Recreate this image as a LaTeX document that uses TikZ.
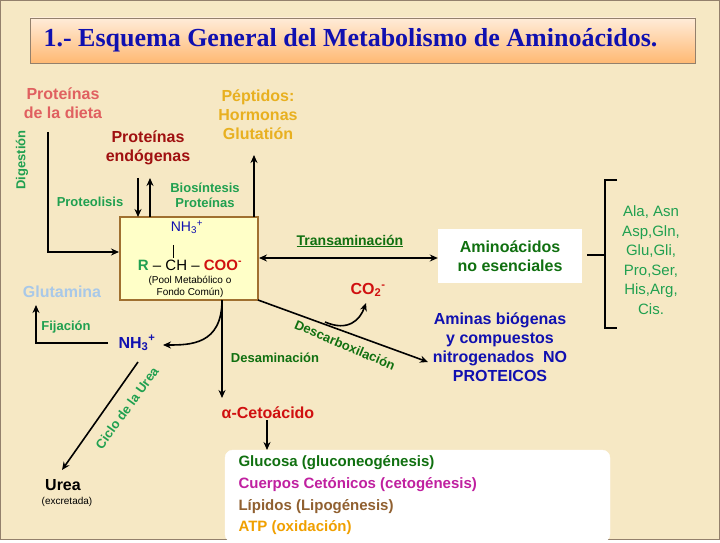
\documentclass[tikz,border=0pt]{standalone}
\usepackage{fontspec}
\setmainfont{Liberation Sans}
\newfontfamily\titlefont{Liberation Serif}
\usetikzlibrary{arrows.meta, positioning}
\definecolor{bgbeige}{HTML}{F6E8C4}
\definecolor{diet}{HTML}{E06060}
\definecolor{pept}{HTML}{E8B020}
\definecolor{endo}{HTML}{A01010}
\definecolor{lgreen}{HTML}{20A050}
\definecolor{dgreen}{HTML}{107010}
\definecolor{nblue}{HTML}{1010B0}
\definecolor{glut}{HTML}{A8C8E8}
\definecolor{cred}{HTML}{D01010}
\definecolor{lip}{HTML}{906030}
\definecolor{cet}{HTML}{C020A0}
\definecolor{atp}{HTML}{F0A000}
\definecolor{poolfill}{HTML}{FFFFC8}
\definecolor{poolline}{HTML}{A07030}
\newcommand{\ammon}{NH\textsubscript{3}\textsuperscript{+}}

\begin{document}
\begin{tikzpicture}[
        x=1pt, y=-1pt,
        font=\bfseries,
        lbl/.style={align=center, inner sep=1pt},
        big/.style={lbl, font=\fontsize{16}{19}\selectfont\bfseries},
        small/.style={lbl, font=\fontsize{13}{15}\selectfont\bfseries, text=lgreen},
        flow/.style={-{Stealth[length=8pt,width=7pt]}, line width=1.6pt}
    ]

    % frame and title
    \fill[bgbeige] (0,0) rectangle (720,540);
    \draw[gray!70!brown, line width=1pt] (0.5,0.5) rectangle (719.5,539.5);
    \shade[top color=orange!15, bottom color=orange!55, draw=gray!70!brown]
        (30,18) rectangle (695,63);
    \node[anchor=west, text=nblue, font=\titlefont\fontsize{26}{30}\selectfont\bfseries]
        (title) at (40,40) {1.- Esquema General del Metabolismo de Aminoácidos.};

    % pool
    \node[draw=poolline, fill=poolfill, line width=2pt, minimum width=138pt,
          minimum height=83pt] (pool) at (189,258.5) {};
    \node[text=nblue, font=\fontsize{14}{16}\selectfont\mdseries] (nh3top) at (187,227) {\ammon};
    \coordinate (bondtop) at (173,245);
    \coordinate (bondbot) at (173,258);
    \draw[line width=0.8pt] (bondtop) -- (bondbot);
    \node[font=\fontsize{15}{17}\selectfont\mdseries] (formula) at (190,265)
        {\textbf{\textcolor{lgreen}{R}} -- CH -- \textbf{\textcolor{cred}{COO\textsuperscript{-}}}};
    \node[lbl, font=\fontsize{10}{12}\selectfont\mdseries] (poolname) at (190,287)
        {(Pool Metabólico o\\Fondo Común)};

    % sources and fates
    \node[big, text=diet] (dieta) at (63,103) {Proteínas\\de la dieta};
    \node[big, text=pept] (pept) at (258,115) {Péptidos:\\Hormonas\\Glutatión};
    \node[big, text=endo] (endo) at (148,148) {Proteínas\\endógenas};
    \node[small, rotate=90] (dig) at (22,160) {Digestión};
    \node[small] (proteol) at (90,202) {Proteolisis};
    \node[small] (biosin) at (205,195) {Biosíntesis\\Proteínas};

    \draw[flow] (48,132) |- (pool.west |- 0,252);
    \draw[flow] (138,178) -- (138,217);
    \draw[flow] (150,217) -- (150,178);
    \draw[flow] (254,217) -- (254,155);

    % transamination
    \node[draw=none, fill=white, minimum width=144pt, minimum height=54pt, lbl,
          font=\fontsize{16}{19}\selectfont\bfseries, text=dgreen]
        (aano) at (510,256) {Aminoácidos\\no esenciales};
    \node[small, text=dgreen, font=\fontsize{14}{16}\selectfont\bfseries] (transam) at (350,241)
        {\underline{Transaminación}};
    \draw[{Stealth[length=8pt,width=7pt]}-{Stealth[length=8pt,width=7pt]}, line width=1.6pt]
        (pool.east |- 0,258) -- (aano.west |- 0,258);

    % list
    \coordinate (brtop) at (617,180);
    \coordinate (brbot) at (617,328);
    \draw[line width=1.8pt] (brtop) -- (605,180) -- (605,328) -- (brbot);
    \draw[line width=1.8pt] (587,255) -- (605,255);
    \node[lbl, text=lgreen, font=\fontsize{15}{19.5}\selectfont\mdseries] (aalist) at (651,260)
        {Ala, Asn\\Asp,Gln,\\Glu,Gli,\\Pro,Ser,\\His,Arg,\\Cis.};

    % ammonia
    \node[big, text=glut] (glut) at (62,292) {Glutamina};
    \node[small] (fij) at (66,327) {Fijación};
    \node[text=nblue, font=\fontsize{16}{19}\selectfont\bfseries] (nh3) at (137,343) {\ammon};
    \draw[flow] (108,343) -- (36,343) -- (36,305);
    \draw[flow] (222,300) .. controls (222,345) and (190,345) .. (163,345);
    \node[small, rotate=54] (ciclo) at (127,408) {Ciclo de la Urea};
    \draw[flow] (138,362) -- (62,470);
    \node[lbl, font=\fontsize{16}{19}\selectfont\bfseries] (urea) at (63,485) {Urea};
    \node[lbl, font=\fontsize{10}{12}\selectfont\mdseries] (excr) at (67,502) {(excretada)};

    % deamination
    \node[small, text=dgreen] (desam) at (275,358) {Desaminación};
    \node[big, text=cred] (ceto) at (268,413) {α-Cetoácido};
    \draw[flow] (222,300) -- (222,398);

    % decarboxylation
    \node[big, text=cred] (co2) at (368,290) {CO\textsubscript{2}\textsuperscript{-}};
    \node[small, text=dgreen, rotate=-23] (descarb) at (345,345) {Descarboxilación};
    \draw[flow] (258,300) -- (428,362);
    \draw[flow] (325,322) .. controls (348,332) and (360,320) .. (366,303);
    \node[big, text=nblue] (aminas) at (500,347)
        {Aminas biógenas\\y compuestos\\nitrogenados\ \ NO\\PROTEICOS};

    % fates of keto acid
    \node[draw=white, fill=white, rounded corners=8pt, minimum width=385pt,
          minimum height=92pt] (fates) at (417.5,496) {};
    \node[anchor=west, text=dgreen, font=\fontsize{15}{18}\selectfont\bfseries] (gluc) at (235,463) {Glucosa (gluconeogénesis)};
    \node[anchor=west, text=cet, font=\fontsize{15}{18}\selectfont\bfseries] (cuer) at (235,485) {Cuerpos Cetónicos (cetogénesis)};
    \node[anchor=west, text=lip, font=\fontsize{15}{18}\selectfont\bfseries] (lipi) at (235,507) {Lípidos (Lipogénesis)};
    \node[anchor=west, text=atp, font=\fontsize{15}{18}\selectfont\bfseries] (atpn) at (235,528) {ATP (oxidación)};
    \draw[flow] (ceto.south -| 267,0) -- (267,450);
\end{tikzpicture}
\end{document}
